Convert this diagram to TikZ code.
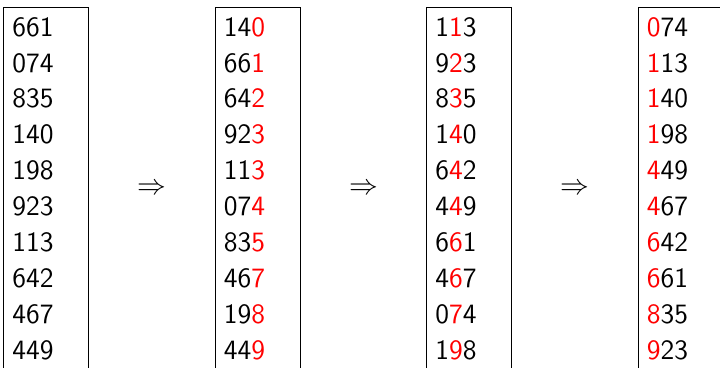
\documentclass[tikz,border=0pt]{standalone}
\usepackage{xcolor}
\newcommand{\rd}[1]{\textcolor{red}{#1}}
\tikzset{
  num/.style={anchor=west, inner sep=0pt, font=\fontsize{14}{17}\selectfont\sffamily},
  pass/.style={inner sep=0pt, font=\fontsize{14}{17}\selectfont},
  bucket/.style={draw=black, line width=0.5pt}
}
\begin{document}
\begin{tikzpicture}[x=0.5pt,y=-0.5pt]
\useasboundingbox (0,0) rectangle (720,368);
% the four columns
\draw[bucket] (4,400) |- (89,7.5) -- (89,400);
\draw[bucket] (215.5,400) |- (300.5,7.5) -- (300.5,400);
\draw[bucket] (427,400) |- (512,7.5) -- (512,400);
\draw[bucket] (638.5,400) |- (723.5,7.5) -- (723.5,400);
\foreach \n [count=\r] in {661,074,835,140,198,923,113,642,467,449}
  \node[num] (a\r) at (12,{27+35.9*(\r-1)}) {\n};
\foreach \n [count=\r] in {14\rd{0},66\rd{1},64\rd{2},92\rd{3},11\rd{3},07\rd{4},83\rd{5},46\rd{7},19\rd{8},44\rd{9}}
  \node[num] (b\r) at (223.5,{27+35.9*(\r-1)}) {\n};
\foreach \n [count=\r] in {1\rd{1}3,9\rd{2}3,8\rd{3}5,1\rd{4}0,6\rd{4}2,4\rd{4}9,6\rd{6}1,4\rd{6}7,0\rd{7}4,1\rd{9}8}
  \node[num] (c\r) at (435,{27+35.9*(\r-1)}) {\n};
\foreach \n [count=\r] in {\rd{0}74,\rd{1}13,\rd{1}40,\rd{1}98,\rd{4}49,\rd{4}67,\rd{6}42,\rd{6}61,\rd{8}35,\rd{9}23}
  \node[num] (d\r) at (646.5,{27+35.9*(\r-1)}) {\n};
% passes
\node[pass] (p1) at (151.7,189) {$\Rightarrow$};
\node[pass] (p2) at (363.5,189) {$\Rightarrow$};
\node[pass] (p3) at (574.7,189) {$\Rightarrow$};
\end{tikzpicture}
\end{document}
